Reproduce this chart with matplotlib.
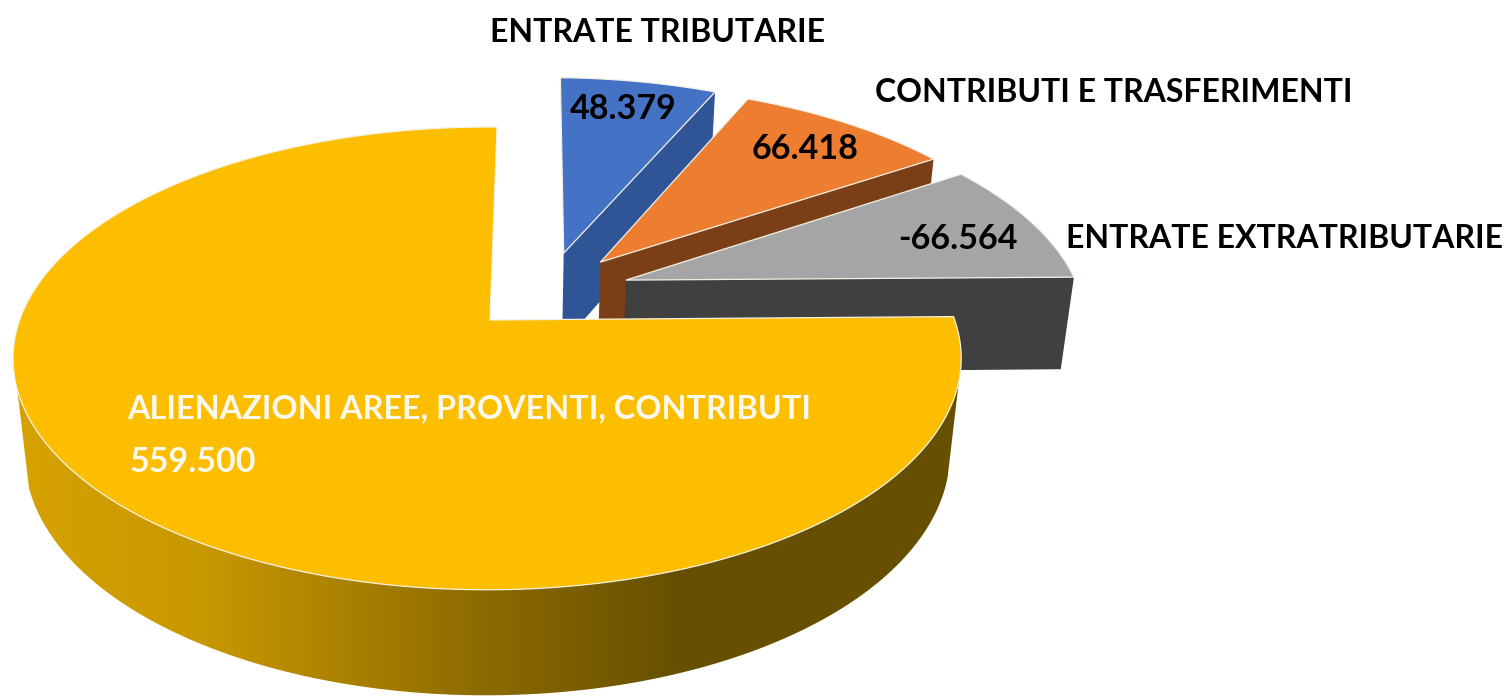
import matplotlib
matplotlib.use("Agg")
import matplotlib.pyplot as plt
import numpy as np
from matplotlib.colors import LinearSegmentedColormap
from matplotlib.patches import Polygon

plt.rcParams["font.family"] = ["Lato", "DejaVu Sans"]

categories = ["ENTRATE TRIBUTARIE", "CONTRIBUTI E TRASFERIMENTI", "ENTRATE EXTRATRIBUTARIE",
              "ALIENAZIONI AREE, PROVENTI, CONTRIBUTI"]
values = [48379, 66418, -66564, 559500]

top_colors = ["#4472C4", "#ED7D31", "#A5A5A5", "#FDBE00"]
side_colors = ["#2F5597", "#7A3F17", "#404040", "#665000"]
explode = [(0.166, 0.313), (0.247, 0.269), (0.300, 0.183), (0.0, 0.0)]

# positions of the texts, in pixels of the figure
name_pos = [(658, 32), (1114, 92), (1285, 238), (127, 409)]
value_pos = [(623, 109), (805, 149), (958, 239), (130, 462)]

START_ANGLE = 89.0
CX, CY = 490.0, 320.0
RX, RY = 467.5, 225.0
PERSP, PERSP_X, PERSP_Z = 0.166, 0.006, 0.024
DEPTH = 97.0


def project(x, y, z=0.0):
    s = 1.0 / (1.0 + PERSP * y + PERSP_X * x + PERSP_Z * z)
    return CX + RX * x * s, CY - RY * y * s + DEPTH * z * s


def arc(t0, t1, off=(0.0, 0.0), z=0.0, n=200):
    t = np.radians(np.linspace(t0, t1, n))
    return np.column_stack(project(off[0] + np.cos(t), off[1] + np.sin(t), z))


def fmt(v):
    return f"{v:,}".replace(",", ".")


fig = plt.figure(figsize=(15.08, 6.97), dpi=100)
ax = fig.add_axes([0, 0, 1, 1])
ax.axis("off")

sizes = np.abs(values)
sweeps = 360.0 * sizes / sizes.sum()
ends = START_ANGLE - np.cumsum(sweeps)
starts = ends + sweeps
edge = "#F4F1E4"

# exploded slices, back to front: cut face first and then the top
for i in range(3):
    off = explode[i]
    apex_top = np.array(project(off[0], off[1]))
    apex_low = np.array(project(off[0], off[1], 1.0))
    rim_top = arc(starts[i], ends[i], off)
    rim_low = arc(starts[i], ends[i], off, 1.0)
    cut = np.array([apex_top, rim_top[-1], rim_low[-1], apex_low])
    ax.add_patch(Polygon(cut, closed=True, fc=side_colors[i], ec="none", zorder=2 + i))
    ax.add_patch(Polygon(np.vstack([apex_top, rim_top]), closed=True, fc=top_colors[i],
                         ec=edge, lw=0.9, zorder=2.5 + i))

# big slice: outer wall with the horizontal gradient
wall = np.vstack([arc(197, 345), arc(345, 197, z=1.0)])
wall_cmap = LinearSegmentedColormap.from_list("wall", [(0, "#D6A200"), (0.2, "#C89800"), (0.5, "#8C6A00"),
                                                       (0.7, "#665000"), (1, "#665000")])
grad = np.linspace(0, 1, 500).reshape(1, -1)
im = ax.imshow(grad, cmap=wall_cmap, extent=(14, 960, 697, 300), aspect="auto", zorder=6)
clip = Polygon(wall, closed=True, transform=ax.transData, fc="none", ec="none")
ax.add_patch(clip)
im.set_clip_path(clip)
ax.set_xlim(0, 1508)
ax.set_ylim(697, 0)

apex = project(0, 0)
rim = arc(starts[3], ends[3])
ax.add_patch(Polygon(np.vstack([apex, rim]), closed=True, fc=top_colors[3], ec=edge, lw=0.9, zorder=7))

for i in range(3):
    ax.text(*name_pos[i], categories[i], fontsize=23, fontweight="bold", color="black",
            ha="center", va="center", zorder=9)
    ax.text(*value_pos[i], fmt(values[i]), fontsize=24.5, fontweight="bold", color="black",
            ha="center", va="center", zorder=9)
ax.text(*name_pos[3], categories[3], fontsize=23.3, fontweight="bold", color="#FBF8EE",
        ha="left", va="center", zorder=9)
ax.text(*value_pos[3], fmt(values[3]), fontsize=24.5, fontweight="bold", color="#FBF8EE",
        ha="left", va="center", zorder=9)

fig.savefig("out.png", dpi=100)
